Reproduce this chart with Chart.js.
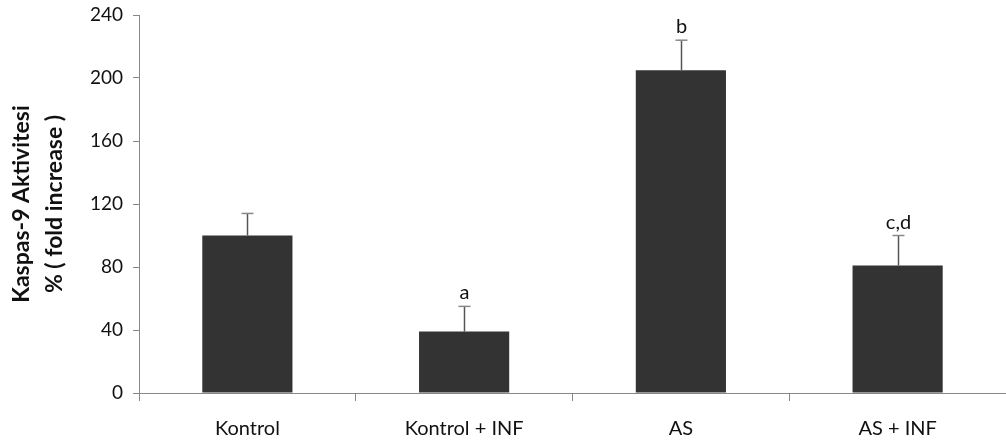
<!DOCTYPE html>
<html>
<head>
<meta charset="utf-8">
<script src="https://cdn.jsdelivr.net/npm/chart.js@4"></script>
<style>
  html, body { margin: 0; padding: 0; background: #fff; }
  #wrap { width: 1006px; height: 441px; }
</style>
</head>
<body>
<div id="wrap"><canvas id="chart"></canvas></div>
<script>
// values
const groups = ["Kontrol", "Kontrol + INF", "AS", "AS + INF"];
const means = [100, 39, 205, 81];
const errors = [14, 16, 19, 19];
const marks = ["", "a", "b", "c,d"];
const yTitle = ["Kaspas-9 Aktivitesi", "% ( fold increase )"];

const fontName = "Lato, 'Open Sans', sans-serif";

// draws the upper error bar and the letter above it
const errorBars = {
  id: "errorBars",
  afterDatasetsDraw(chart) {
    const ctx = chart.ctx;
    const meta = chart.getDatasetMeta(0);
    const y = chart.scales.y;
    ctx.save();
    meta.data.forEach(function (bar, i) {
      const x = Math.round(bar.x) + 0.5;
      const yTop = y.getPixelForValue(means[i] + errors[i]);
      ctx.strokeStyle = "#555";
      ctx.lineWidth = 1.5;
      ctx.beginPath();
      ctx.moveTo(x, bar.y);
      ctx.lineTo(x, yTop);
      ctx.stroke();
      ctx.strokeStyle = "#888";
      ctx.beginPath();
      ctx.moveTo(x - 6, yTop);
      ctx.lineTo(x + 6, yTop);
      ctx.stroke();
      if (marks[i]) {
        ctx.fillStyle = "#111";
        ctx.font = "20px " + fontName;
        ctx.textAlign = "center";
        ctx.textBaseline = "alphabetic";
        ctx.fillText(marks[i], x, yTop - 7);
      }
    });
    ctx.restore();
  }
};

new Chart(document.getElementById("chart"), {
  type: "bar",
  data: {
    labels: groups,
    datasets: [{
      data: means,
      backgroundColor: "#333333",
      borderWidth: 0,
      barPercentage: 0.52,
      categoryPercentage: 0.8
    }]
  },
  options: {
    responsive: true,
    maintainAspectRatio: false,
    animation: false,
    events: [],
    layout: { padding: { top: 15, right: 0, left: 0, bottom: 0 } },
    plugins: { legend: { display: false }, tooltip: { enabled: false } },
    scales: {
      x: {
        offset: true,
        grid: { display: true, drawOnChartArea: false, offset: true, color: "#888", tickLength: 8 },
        border: { color: "#888", width: 1 },
        ticks: { color: "#111", padding: 16, font: { family: fontName, size: 20 } },
        afterFit(scale) { scale.height = 48; }
      },
      y: {
        min: 0,
        max: 240,
        ticks: { stepSize: 40, color: "#111", padding: 10, font: { family: fontName, size: 19 } },
        grid: { display: true, drawOnChartArea: false, color: "#888", tickLength: 6 },
        border: { color: "#888", width: 1 },
        title: {
          display: true,
          text: yTitle,
          color: "#111",
          padding: { top: 5, bottom: 0 },
          font: { family: fontName, size: 23, weight: "bold", lineHeight: 1.45 }
        },
        afterFit(scale) {
          scale.width = 139;
          scale.paddingTop = 0;
          scale.paddingBottom = 0;
        }
      }
    }
  },
  plugins: [errorBars]
});
</script>
</body>
</html>
